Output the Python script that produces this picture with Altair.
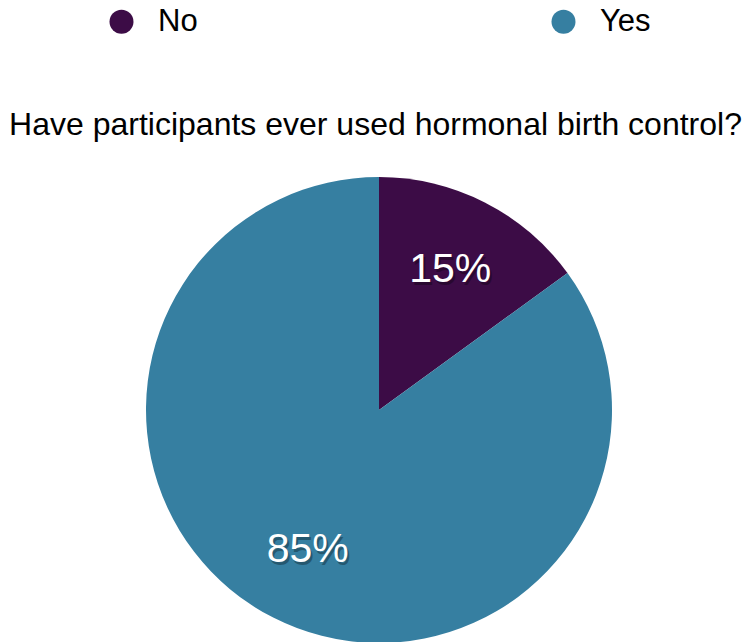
import altair as alt
import pandas as pd

answers = ["No", "Yes"]
shares = [15, 85]
labels = ["15%", "85%"]
colors = ["#3c0c46", "#367fa1"]

df = pd.DataFrame({"answer": answers, "share": shares, "label": labels})

FONT = "Liberation Sans"
TOP = 145
CX, CY = 379, 410 - TOP

base = alt.Chart(df).encode(
    theta=alt.Theta("share:Q", stack=True),
    order=alt.Order("answer:N"),
)

pie = base.mark_arc(radius=233, stroke=None).encode(
    x=alt.value(CX),
    y=alt.value(CY),
    color=alt.Color(
        "answer:N",
        scale=alt.Scale(domain=answers, range=colors),
        legend=alt.Legend(
            title=None,
            orient="none",
            direction="horizontal",
            legendX=106,
            legendY=-139,
            symbolType="circle",
            symbolSize=576,
            symbolStrokeWidth=0,
            symbolOpacity=1,
            labelFontSize=31,
            labelFont=FONT,
            labelColor="#000000",
            labelOffset=21,
            columnPadding=350,
        ),
    ),
)

shadow = base.mark_text(
    radius=157, font=FONT, fontSize=41, color="#000000", opacity=0.3, dx=2, dy=3
).encode(x=alt.value(CX), y=alt.value(CY), text="label:N")

text = base.mark_text(
    radius=157, font=FONT, fontSize=41, color="#ffffff"
).encode(x=alt.value(CX), y=alt.value(CY), text="label:N")

chart = (
    alt.layer(pie, shadow, text)
    .properties(
        width=751,
        height=642 - TOP,
        autosize=alt.AutoSizeParams(type="none"),
        padding={"left": 0, "right": 0, "top": TOP, "bottom": 0},
        title=alt.TitleParams(
            "Have participants ever used hormonal birth control?",
            font=FONT,
            fontSize=32,
            fontWeight="normal",
            color="#000000",
            anchor="middle",
            offset=14,
            dy=150,
        ),
    )
    .configure_view(stroke=None)
)

chart.save("out.html", embed_options={"renderer": "svg", "actions": False})
